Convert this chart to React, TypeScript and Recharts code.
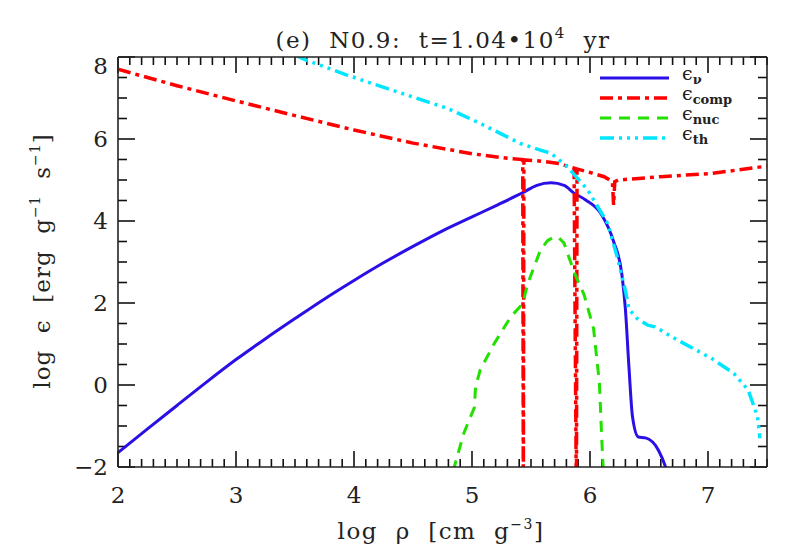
import React from 'react';
import { LineChart, Line, XAxis, YAxis, Customized } from 'recharts';

// ---- data ----
const nuRho = [2, 2.25, 2.5, 2.75, 3, 3.25, 3.5, 3.75, 4, 4.25, 4.5, 4.75, 5, 5.2, 5.43, 5.55, 5.67, 5.78, 5.865, 5.96, 6.09, 6.2, 6.27, 6.3, 6.33, 6.36, 6.41, 6.47, 6.58, 6.64, 6.67];
const nuEps = [-1.65, -1.07, -0.5, 0.07, 0.62, 1.13, 1.62, 2.1, 2.55, 2.98, 3.38, 3.76, 4.1, 4.37, 4.69, 4.87, 4.93, 4.87, 4.68, 4.52, 4.19, 3.5, 2.7, 1.85, 0.44, -0.77, -1.27, -1.29, -1.59, -2.0, -2.3];

const compRho = [2, 2.5, 3, 3.5, 4, 4.5, 5, 5.3, 5.43, 5.435, 5.44, 5.55, 5.72, 5.865, 5.885, 5.89, 5.98, 6.12, 6.19, 6.2, 6.21, 6.24, 6.6, 7.03, 7.45, 7.5];
const compEps = [7.7, 7.3, 6.93, 6.57, 6.22, 5.9, 5.64, 5.53, 5.5, -3, 5.49, 5.47, 5.41, 5.29, -3, 5.27, 5.2, 5.08, 4.96, 4.39, 4.96, 5.0, 5.08, 5.16, 5.32, 5.34];

const nucRho = [4.84, 4.93, 5.02, 5.03, 5.07, 5.19, 5.33, 5.43, 5.47, 5.58, 5.64, 5.7, 5.74, 5.78, 5.87, 5.95, 6.03, 6.08, 6.1, 6.115];
const nucEps = [-2.1, -1.18, -0.55, -0.05, 0.37, 1.02, 1.67, 1.98, 2.45, 3.29, 3.52, 3.62, 3.58, 3.46, 2.72, 2.2, 1.38, 0.04, -1.34, -2.2];

const thRho = [3.5, 3.59, 3.94, 4.45, 4.79, 5.07, 5.41, 5.58, 5.67, 5.81, 5.98, 6.15, 6.23, 6.3, 6.33, 6.4, 6.49, 6.55, 6.74, 7.03, 7.22, 7.34, 7.42, 7.44];
const thEps = [8.05, 7.93, 7.56, 7.07, 6.75, 6.38, 5.89, 5.73, 5.65, 5.32, 4.76, 3.94, 3.13, 2.3, 1.85, 1.62, 1.46, 1.42, 1.1, 0.65, 0.28, -0.12, -0.77, -1.3];

const xMajor = [2, 3, 4, 5, 6, 7];
const yMajor = [-2, 0, 2, 4, 6, 8];
const xMinor = Array.from({ length: 56 }, (_, i) => Math.round(20 + i) / 10);
const yMinor = Array.from({ length: 21 }, (_, i) => -2 + i * 0.5);
const X_DOMAIN = [2, 7.5];
const Y_DOMAIN = [-2, 8];

const seriesNames = ['nu', 'comp', 'nuc', 'th'];
const seriesSubs = ['ν', 'comp', 'nuc', 'th'];
const seriesColors = ['#2a10e6', '#ff0000', '#22e000', '#00e6ff'];
const seriesDash = ['', '13 5 4 5', '11 8', '14 5 3 5 3 5 3 5'];
const seriesWidth = [3, 3.5, 3, 3.5];

const toPts = (xs: number[], ys: number[]) => xs.map((x, i) => ({ x, y: ys[i] }));
const seriesData = [toPts(nuRho, nuEps), toPts(compRho, compEps), toPts(nucRho, nucEps), toPts(thRho, thEps)];

// layout of the plot box (chart margins are given by the axis sizes)
const W = 786;
const H = 550;
const LEFT = 118;
const RIGHT = 19;
const TOP = 57;
const BOTTOM = 83;

const FONT = 'DejaVu Serif';
const AX = '#111';
const TW = 1.6;
const S = '\u00A0';
const MAJ = 16;
const MIN = 8;
const isMajor = (v: number, majors: number[]) => majors.some((m) => Math.abs(m - v) < 1e-6);

const px = (v: number) => LEFT + ((v - X_DOMAIN[0]) / (X_DOMAIN[1] - X_DOMAIN[0])) * (W - LEFT - RIGHT);
const py = (v: number) => H - BOTTOM - ((v - Y_DOMAIN[0]) / (Y_DOMAIN[1] - Y_DOMAIN[0])) * (H - TOP - BOTTOM);

const BottomTick = (p: any) => {
  const { x, y, payload } = p;
  if (!isMajor(payload.value, xMajor)) return <g />;
  return (
    <text x={x} y={y + 36} textAnchor="middle" fontFamily={FONT} fontSize={23} fill="#222">
      {payload.value}
    </text>
  );
};
const LeftTick = (p: any) => {
  const { x, y, payload } = p;
  if (!isMajor(payload.value, yMajor)) return <g />;
  const lab = payload.value < 0 ? '−' + Math.abs(payload.value) : String(payload.value);
  const dy = payload.value === 8 ? 17 : 8;
  return (
    <text x={x - 10} y={y + dy} textAnchor="end" fontFamily={FONT} fontSize={23} fill="#222">
      {lab}
    </text>
  );
};
const NoTick = () => <g />;

const TickMarks = () => (
  <g stroke={AX} strokeWidth={TW}>
    {xMinor.map((v) => {
      const len = isMajor(v, xMajor) ? MAJ : MIN;
      const x = px(v);
      return (
        <g key={`x${v}`}>
          <line x1={x} x2={x} y1={H - BOTTOM} y2={H - BOTTOM - len} />
          <line x1={x} x2={x} y1={TOP} y2={TOP + len} />
        </g>
      );
    })}
    {yMinor.map((v) => {
      const len = isMajor(v, yMajor) ? MAJ + 1 : MIN + 1;
      const y = py(v);
      return (
        <g key={`y${v}`}>
          <line x1={LEFT} x2={LEFT + len} y1={y} y2={y} />
          <line x1={W - RIGHT} x2={W - RIGHT - len} y1={y} y2={y} />
        </g>
      );
    })}
  </g>
);

const Texts = () => (
  <g fontFamily={FONT} fill="#222">
    <TickMarks />
    <text x={443} y={48} textAnchor="middle" fontSize={23} letterSpacing={1.5}>
      {`(e)${S}${S}N0.9:${S}${S}t=1.04•10`}
      <tspan dy={-10} fontSize={15}>4</tspan>
      <tspan dy={10}>{`${S}${S}yr`}</tspan>
    </text>
    <text x={441} y={539} textAnchor="middle" fontSize={23} letterSpacing={1.5}>
      {`log${S}${S}ρ${S}${S}[cm${S}${S}g`}
      <tspan dy={-10} fontSize={14}>−3</tspan>
      <tspan dy={10}>]</tspan>
    </text>
    <text transform="translate(50,261) rotate(-90)" textAnchor="middle" fontSize={23} letterSpacing={1}>
      {`log${S}${S}ϵ${S}${S}[erg${S}${S}g`}
      <tspan dy={-10} fontSize={14}>−1</tspan>
      <tspan dy={10}>{`${S}${S}s`}</tspan>
      <tspan dy={-10} fontSize={14}>−1</tspan>
      <tspan dy={10}>]</tspan>
    </text>
    {seriesNames.map((n, i) => (
      <g key={n}>
        <line x1={600} x2={669} y1={78 + i * 20} y2={78 + i * 20} stroke={seriesColors[i]} strokeWidth={seriesWidth[i]} strokeDasharray={seriesDash[i] || undefined} />
        <text x={682} y={80 + i * 20} fontSize={19}>
          ϵ
          <tspan dy={4} fontSize={13} fontWeight="bold">{seriesSubs[i]}</tspan>
        </text>
      </g>
    ))}
  </g>
);

const axisLineStyle = { stroke: '#222', strokeWidth: 1.6 };

export default function App() {
  return (
    <div style={{ position: 'absolute', left: 0, top: 0, background: '#fff' }}>
      <LineChart width={W} height={H} margin={{ top: 0, right: 0, bottom: 0, left: 0 }}>
        <XAxis xAxisId="b" type="number" dataKey="x" domain={X_DOMAIN} allowDataOverflow ticks={xMinor} interval={0} height={BOTTOM} tickSize={0} tickMargin={0} tickLine={false} tick={<BottomTick />} axisLine={axisLineStyle} />
        <XAxis xAxisId="t" orientation="top" type="number" dataKey="x" domain={X_DOMAIN} allowDataOverflow ticks={xMajor} interval={0} height={TOP} tickSize={0} tickMargin={0} tickLine={false} tick={<NoTick />} axisLine={axisLineStyle} />
        <YAxis yAxisId="l" type="number" domain={Y_DOMAIN} allowDataOverflow ticks={yMinor} interval={0} width={LEFT} tickSize={0} tickMargin={0} tickLine={false} tick={<LeftTick />} axisLine={axisLineStyle} />
        <YAxis yAxisId="r" orientation="right" type="number" domain={Y_DOMAIN} allowDataOverflow ticks={yMajor} interval={0} width={RIGHT} tickSize={0} tickMargin={0} tickLine={false} tick={<NoTick />} axisLine={axisLineStyle} />
        {seriesNames.map((n, i) => (
          <Line
            key={n}
            xAxisId="b"
            yAxisId="l"
            data={seriesData[i]}
            dataKey="y"
            type={i === 0 ? 'monotoneX' : 'linear'}
            stroke={seriesColors[i]}
            strokeWidth={seriesWidth[i]}
            strokeDasharray={seriesDash[i] || undefined}
            dot={false}
            activeDot={false}
            isAnimationActive={false}
          />
        ))}
        <Customized component={Texts} />
      </LineChart>
    </div>
  );
}
